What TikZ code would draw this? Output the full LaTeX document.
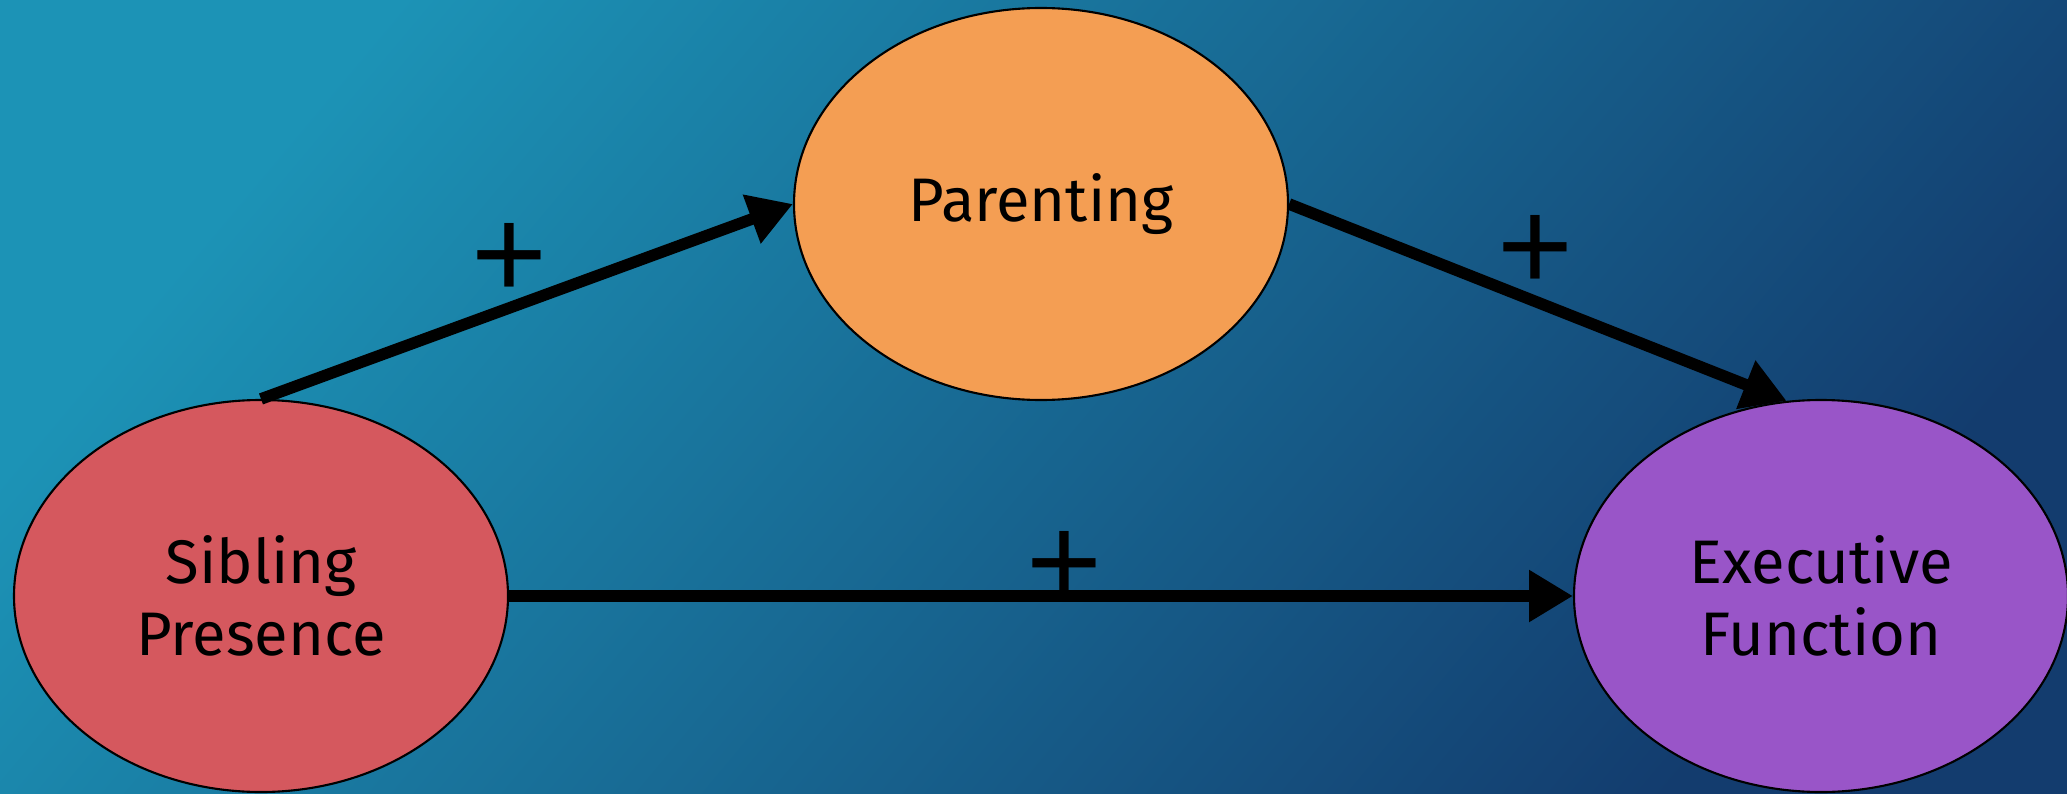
\documentclass[tikz,border=0pt]{standalone}
\usepackage{fontspec}
\setmainfont{Fira Sans}
\newfontfamily\signfont{Liberation Sans}
\usetikzlibrary{shapes.geometric, arrows.meta}
\definecolor{bgtop}{HTML}{1C93B6}
\definecolor{bgbottom}{HTML}{133C6E}
\definecolor{sibred}{HTML}{D5585E}
\definecolor{parorange}{HTML}{F49E53}
\definecolor{exepurple}{HTML}{9955C8}
\tikzstyle{factor} = [ellipse, minimum width=4.94cm, minimum height=3.92cm, inner sep=0pt, draw=black, line width=0.6pt, align=center, font=\fontsize{17.5pt}{20.5pt}\selectfont]
\tikzstyle{arrow} = [line width=3.3pt, -{Triangle[length=12.5pt, width=14pt]}]
\tikzstyle{sign} = [inner sep=0pt, font=\signfont\fontsize{37pt}{37pt}\selectfont]

\begin{document}
\begin{tikzpicture}[node distance=7.8cm]

            \useasboundingbox (0,0) rectangle (20.67,-7.94);
            \shade [top color=bgtop, bottom color=bgbottom, shading angle=50] (0,0) rectangle (20.67,-7.94);

            \node (sibling) [factor, fill=sibred] at (2.61,-5.96) {Sibling\\Presence};

            \node (parenting) [factor, fill=parorange, right of=sibling, yshift=3.92cm] {Parenting};

            \node (exec) [factor, fill=exepurple, right of=parenting, yshift=-3.92cm] {Executive\\Function};


            \draw [arrow] (sibling.north) -- node[sign, pos=0.468, yshift=0.47cm] (plusA) {+} (parenting.west);
            \draw [arrow] (parenting.east) -- node[sign, pos=0.495, yshift=0.48cm] (plusB) {+} (exec.100);
            \draw [arrow] (sibling.east) -- node[sign, pos=0.522, yshift=0.27cm] (plusC) {+} (exec.west);

        \end{tikzpicture}
\end{document}
